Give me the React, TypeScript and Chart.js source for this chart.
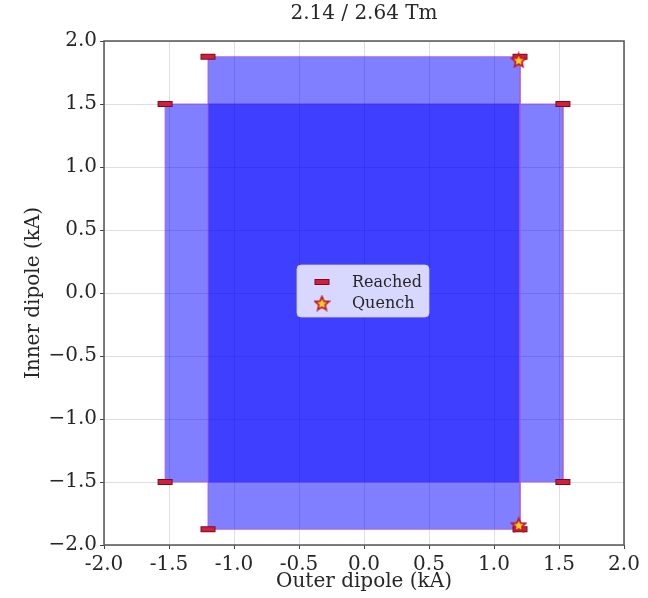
import React, { useEffect, useRef } from "react";
import { Chart, registerables } from "chart.js";

Chart.register(...registerables);

const TITLE = "2.14 / 2.64 Tm";
const X_LABEL = "Outer dipole (kA)";
const Y_LABEL = "Inner dipole (kA)";
const AXIS_MIN = -2;
const AXIS_MAX = 2;
const TICK_STEP = 0.5;

// operating regions (kA)
const WIDE_X = [-1.53, 1.53];
const WIDE_Y = [-1.5, 1.5];
const TALL_X = [-1.2, 1.2];
const TALL_Y = [-1.875, 1.875];

// markers
const REACHED_X = [-1.53, 1.53, -1.53, 1.53, -1.2, 1.2, -1.2, 1.2];
const REACHED_Y = [1.5, 1.5, -1.5, -1.5, 1.875, 1.875, -1.875, -1.875];
const QUENCH_X = [1.19, 1.19];
const QUENCH_Y = [1.85, -1.84];

const LEGEND_LABELS = ["Reached", "Quench"];

const FONT = "'DejaVu Serif', serif";
const TEXT = "#262626";
const RED = "#d0203c";
const RED_EDGE = "#7d0a1c";
const GRID = "rgba(190,190,205,0.5)";

function rectPoly(xs: number[], ys: number[]) {
  return [
    { x: xs[0], y: ys[0] },
    { x: xs[0], y: ys[1] },
    { x: xs[1], y: ys[1] },
    { x: xs[1], y: ys[0] },
    { x: xs[0], y: ys[0] },
  ];
}

function pts(xs: number[], ys: number[]) {
  return xs.map((x, i) => ({ x, y: ys[i] }));
}

function makeStar(size: number) {
  const c = document.createElement("canvas");
  c.width = size;
  c.height = size;
  const ctx = c.getContext("2d")!;
  const cx = size / 2;
  const cy = size / 2 + 0.8;
  const R = size / 2 - 1.2;
  const r = R * 0.45;
  ctx.beginPath();
  for (let i = 0; i < 10; i++) {
    const ang = -Math.PI / 2 + (i * Math.PI) / 5;
    const rad = i % 2 === 0 ? R : r;
    ctx.lineTo(cx + rad * Math.cos(ang), cy + rad * Math.sin(ang));
  }
  ctx.closePath();
  ctx.fillStyle = "#ffd21f";
  ctx.fill();
  ctx.lineWidth = 1.6;
  ctx.strokeStyle = "#c0142a";
  ctx.lineJoin = "miter";
  ctx.stroke();
  return c;
}

const boxPlugin = {
  id: "frameBox",
  afterDraw(chart: any) {
    const { ctx, chartArea: a } = chart;
    ctx.save();
    ctx.strokeStyle = "#555";
    ctx.lineWidth = 1.5;
    ctx.strokeRect(a.left, a.top, a.right - a.left, a.bottom - a.top);
    ctx.restore();
  },
};

function makeLegendPlugin(star: HTMLCanvasElement) {
  return {
    id: "centerLegend",
    afterDraw(chart: any) {
      const { ctx, chartArea: a } = chart;
      const w = 132;
      const h = 52;
      const cx = (a.left + a.right) / 2 - 1;
      const cy = (a.top + a.bottom) / 2 - 2;
      const left = cx - w / 2;
      const top = cy - h / 2;
      ctx.save();
      ctx.beginPath();
      if ((ctx as any).roundRect) (ctx as any).roundRect(left, top, w, h, 4);
      else ctx.rect(left, top, w, h);
      ctx.fillStyle = "rgba(255,255,255,0.8)";
      ctx.fill();
      ctx.strokeStyle = "rgba(204,204,204,0.8)";
      ctx.lineWidth = 1;
      ctx.stroke();

      const mx = left + 25;
      const row1 = top + 17;
      const row2 = top + 38;
      // Reached marker
      ctx.fillStyle = RED_EDGE;
      ctx.fillRect(mx - 7.5, row1 - 3, 15, 6);
      ctx.fillStyle = RED;
      ctx.fillRect(mx - 6.5, row1 - 2, 13, 4);
      // Quench marker
      ctx.drawImage(star, mx - star.width / 2, row2 - star.height / 2);

      ctx.fillStyle = TEXT;
      ctx.font = `16px ${FONT}`;
      ctx.textBaseline = "middle";
      ctx.textAlign = "left";
      ctx.fillText(LEGEND_LABELS[0], left + 55, row1 + 1);
      ctx.fillText(LEGEND_LABELS[1], left + 55, row2 + 1);
      ctx.restore();
    },
  };
}

export default function App() {
  const ref = useRef<HTMLCanvasElement>(null);

  useEffect(() => {
    const star = makeStar(17);
    const chart = new Chart(ref.current!, {
      type: "line",
      data: {
        datasets: [
          {
            label: LEGEND_LABELS[1],
            data: pts(QUENCH_X, QUENCH_Y),
            showLine: false,
            pointStyle: star as any,
            pointRadius: 8,
            order: 0,
          },
          {
            label: LEGEND_LABELS[0],
            data: pts(REACHED_X, REACHED_Y),
            showLine: false,
            pointStyle: "line",
            pointRadius: 6.5,
            pointBorderWidth: 4,
            pointBorderColor: RED,
            pointBackgroundColor: RED,
            order: 1,
          },
          {
            label: "reached-edge",
            data: pts(REACHED_X, REACHED_Y),
            showLine: false,
            pointStyle: "line",
            pointRadius: 7.5,
            pointBorderWidth: 6,
            pointBorderColor: RED_EDGE,
            pointBackgroundColor: RED_EDGE,
            order: 2,
          },
          {
            label: "tall",
            data: rectPoly(TALL_X, TALL_Y),
            fill: "shape",
            backgroundColor: "rgba(0,0,255,0.5)",
            borderColor: "rgba(170,90,220,0.85)",
            borderWidth: 1,
            pointRadius: 0,
            tension: 0,
            order: 3,
          },
          {
            label: "wide",
            data: rectPoly(WIDE_X, WIDE_Y),
            fill: "shape",
            backgroundColor: "rgba(0,0,255,0.5)",
            borderColor: "rgba(170,90,220,0.85)",
            borderWidth: 1,
            pointRadius: 0,
            tension: 0,
            order: 4,
          },
        ] as any,
      },
      options: {
        animation: false,
        responsive: false,
        devicePixelRatio: 1,
        events: [],
        layout: { padding: { left: 0, right: 24, top: 0, bottom: 0 } },
        plugins: {
          legend: { display: false },
          tooltip: { enabled: false },
          title: {
            display: true,
            fullSize: false,
            text: TITLE,
            color: TEXT,
            font: { family: FONT, size: 20, weight: "normal" as any },
            padding: { top: 2, bottom: 15 },
          },
        },
        scales: {
          x: {
            type: "linear",
            min: AXIS_MIN,
            max: AXIS_MAX,
            z: 1,
            afterFit: (s: any) => {
              s.height = 53;
            },
            ticks: {
              stepSize: TICK_STEP,
              autoSkip: false,
              maxRotation: 0,
              padding: 4,
              color: TEXT,
              font: { family: FONT, size: 20 },
              callback: (v: any) => Number(v).toFixed(1),
            },
            grid: {
              color: GRID,
              lineWidth: 1,
              tickLength: 4,
              tickColor: "#444",
              tickWidth: 1,
            },
            border: { display: false },
            title: {
              display: true,
              text: X_LABEL,
              color: TEXT,
              font: { family: FONT, size: 20 },
              padding: { top: 0, bottom: 4 },
            },
          },
          y: {
            type: "linear",
            min: AXIS_MIN,
            max: AXIS_MAX,
            z: 1,
            afterFit: (s: any) => {
              s.width = 104;
            },
            ticks: {
              stepSize: TICK_STEP,
              autoSkip: false,
              padding: 3,
              color: TEXT,
              font: { family: FONT, size: 20 },
              callback: (v: any) => Number(v).toFixed(1).replace("-", "\u2212"),
            },
            grid: {
              color: GRID,
              lineWidth: 1,
              tickLength: 4,
              tickColor: "#444",
              tickWidth: 1,
            },
            border: { display: false },
            title: {
              display: true,
              text: Y_LABEL,
              color: TEXT,
              font: { family: FONT, size: 20 },
              padding: { top: 22, bottom: 0 },
            },
          },
        },
      },
      plugins: [boxPlugin, makeLegendPlugin(star)],
    });
    return () => chart.destroy();
  }, []);

  return (
    <div style={{ position: "fixed", left: 0, top: 0, width: 648, height: 598, background: "#fff" }}>
      <canvas ref={ref} width={648} height={598} style={{ display: "block", width: 648, height: 598 }} />
    </div>
  );
}
